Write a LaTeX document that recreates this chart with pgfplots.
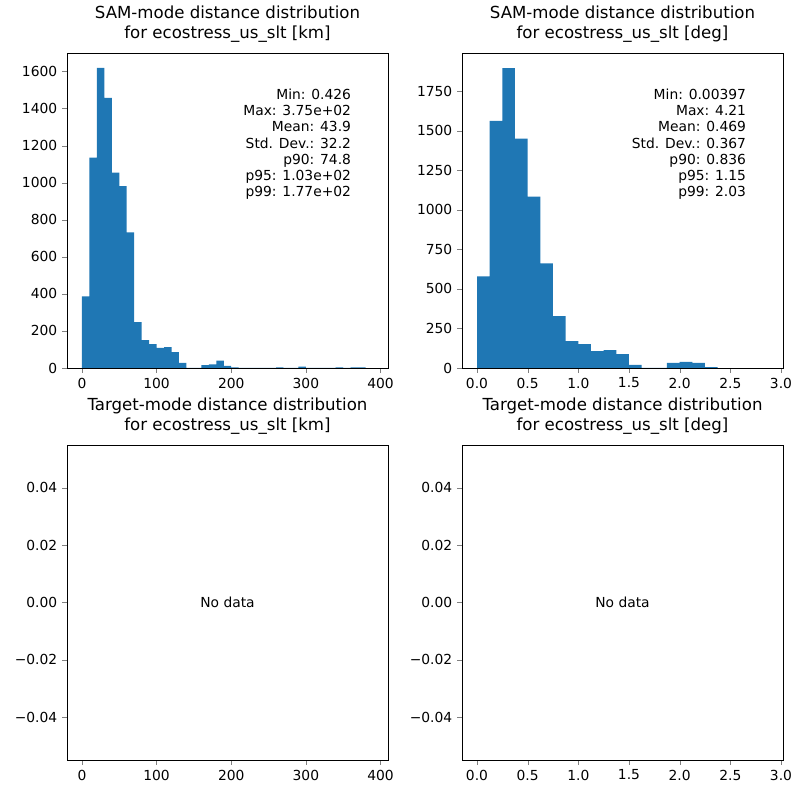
\documentclass[border=0pt]{standalone}
\usepackage{pgfplots}
\pgfplotsset{compat=1.18}
\usepackage{fontspec}
\setmainfont{DejaVu Sans}
\definecolor{mblue}{HTML}{1F77B4}
\begin{document}
\begin{tikzpicture}
\path (0in,0in) rectangle (8in,8in);
\pgfplotsset{
  every axis/.style={width=3.21in,height=3.15in,scale only axis,anchor=south west,
    tick align=outside, tick pos=lower, major tick length=0.049in,
    /pgf/number format/assume math mode=true,
    /pgf/number format/1000 sep={}, scaled y ticks=false, scaled x ticks=false,
    tick label style={font=\fontsize{10}{12}\selectfont},
    title style={font=\fontsize{12}{14.5}\selectfont,align=center,yshift=-2pt},
    axis line style={line width=0.6pt}, ymin=0, clip=false},
}
\begin{axis}[at={(0.67in,4.32in)}, xmin=-20, xmax=410, ymax=1700,
  xtick={0,100,200,300,400}, ytick={0,200,400,600,800,1000,1200,1400,1600},
  title={SAM-mode distance distribution\\for ecostress\_us\_slt [km]}]
\addplot[ybar interval, fill=mblue, draw=none] coordinates {
(0,387)(10,1135)(20,1620)(30,1458)(40,1055)(50,981)(60,732)(70,248)(80,151)(90,129)
(100,108)(110,113)(120,86)(130,27)(140,0)(150,0)(160,16)(170,20)(180,40)(190,12)
(200,4)(210,0)(220,0)(230,0)(240,0)(250,0)(260,3)(270,0)(280,0)(290,8)(300,0)
(310,0)(320,0)(330,0)(340,3)(350,0)(360,4)(370,4)(380,0)};
\node[anchor=north east, align=right, font=\fontsize{10}{11.6}\selectfont] at (axis description cs:0.9,0.9) {Min: 0.426\\Max: 3.75e+02\\Mean: 43.9\\Std. Dev.: 32.2\\p90: 74.8\\p95: 1.03e+02\\p99: 1.77e+02};
\end{axis}
\begin{axis}[at={(4.62in,4.32in)}, xmin=-0.148, xmax=3.02, ymax=1992,
  xtick={0,0.5,1,1.5,2,2.5,3}, xticklabels={0.0,0.5,1.0,1.5,2.0,2.5,3.0},
  ytick={0,250,500,750,1000,1250,1500,1750},
  title={SAM-mode distance distribution\\for ecostress\_us\_slt [deg]}]
\addplot[ybar interval, fill=mblue, draw=none] coordinates {
(0,580)(0.125,1563)(0.25,1897)(0.375,1450)(0.5,1084)(0.625,662)(0.75,328)(0.875,170)
(1.0,151)(1.125,107)(1.25,113)(1.375,88)(1.5,19)(1.625,0)(1.75,0)(1.875,32)(2.0,38)
(2.125,32)(2.25,6)(2.375,0)};
\node[anchor=north east, align=right, font=\fontsize{10}{11.6}\selectfont] at (axis description cs:0.9,0.9) {Min: 0.00397\\Max: 4.21\\Mean: 0.469\\Std. Dev.: 0.367\\p90: 0.836\\p95: 1.15\\p99: 2.03};
\end{axis}
\begin{axis}[at={(0.67in,0.40in)}, xmin=-20, xmax=410, ymin=-0.055, ymax=0.055,
  xtick={0,100,200,300,400}, ytick={-0.04,-0.02,0,0.02,0.04},
  yticklabels={−0.04,−0.02,0.00,0.02,0.04},
  title={Target-mode distance distribution\\for ecostress\_us\_slt [km]}]
\node[font=\fontsize{10}{12}\selectfont] at (axis description cs:0.5,0.5) {No data};
\end{axis}
\begin{axis}[at={(4.62in,0.40in)}, xmin=-0.148, xmax=3.02, ymin=-0.055, ymax=0.055,
  xtick={0,0.5,1,1.5,2,2.5,3}, xticklabels={0.0,0.5,1.0,1.5,2.0,2.5,3.0},
  ytick={-0.04,-0.02,0,0.02,0.04},
  yticklabels={−0.04,−0.02,0.00,0.02,0.04},
  title={Target-mode distance distribution\\for ecostress\_us\_slt [deg]}]
\node[font=\fontsize{10}{12}\selectfont] at (axis description cs:0.5,0.5) {No data};
\end{axis}
\end{tikzpicture}
\end{document}
